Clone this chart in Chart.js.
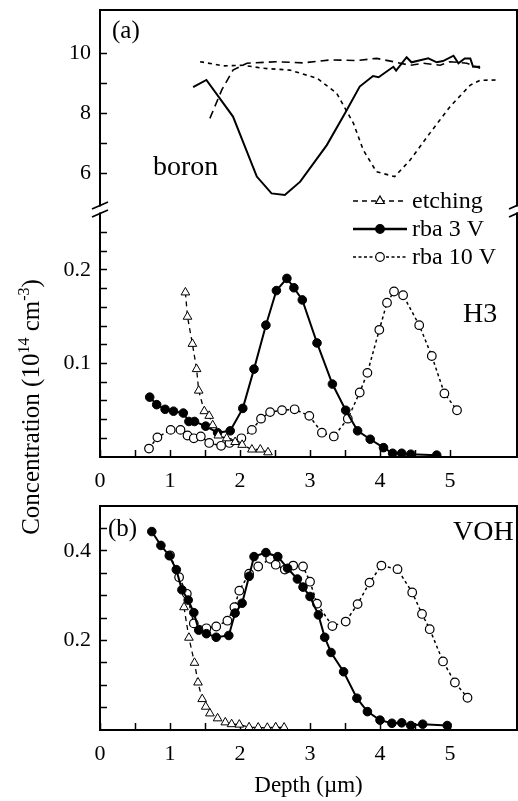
<!DOCTYPE html>
<html><head><meta charset="utf-8">
<script src="https://cdn.jsdelivr.net/npm/chart.js@4.4.1/dist/chart.umd.min.js"></script>
<style>
html,body{margin:0;padding:0;background:#fff;}
#wrap{position:relative;width:518px;height:801px;overflow:hidden;}
canvas{position:absolute;left:0;top:0;}
</style></head><body>
<div id="wrap"><canvas id="ca" width="518" height="801"></canvas><canvas id="cb" width="518" height="801"></canvas></div>
<script>
// ---------- data ----------
const legendLabels = ['etching', 'rba 3 V', 'rba 10 V'];
const depthTickLabels = [0, 1, 2, 3, 4, 5];
const boronTickLabels = [6, 8, 10];
const h3TickLabels = [0.1, 0.2];
const vohTickLabels = [0.2, 0.4];

// (a) boron profiles
const boronEtchX = [1.57,1.74,1.90,2.10,2.52,2.90,3.29,3.67,3.95,4.19,4.43,4.62,4.86,5.00,5.24,5.43];
const boronEtchY = [7.83,8.78,9.44,9.67,9.72,9.68,9.78,9.76,9.83,9.72,9.60,9.67,9.60,9.72,9.67,9.50];
const boron3X = [1.33,1.52,1.90,2.24,2.45,2.64,2.86,3.24,3.50,3.71,3.90,3.98,4.19,4.23,4.38,4.45,4.69,4.81,4.90,5.05,5.12,5.21,5.29,5.33,5.43];
const boron3Y = [8.87,9.11,7.89,5.89,5.33,5.28,5.72,6.94,8.00,8.89,9.24,9.20,9.55,9.42,9.87,9.70,9.83,9.70,9.74,9.92,9.67,9.83,9.83,9.55,9.55];
const boron10X = [1.43,1.76,2.05,2.33,2.71,3.10,3.38,3.62,3.76,3.95,4.21,4.43,4.71,5.00,5.29,5.43,5.67];
const boron10Y = [9.72,9.58,9.60,9.50,9.44,9.17,8.67,7.67,6.78,6.05,5.89,6.44,7.33,8.22,8.94,9.10,9.11];

// (a) H3
const h3EtchX = [1.22,1.25,1.32,1.38,1.41,1.49,1.56,1.61,1.69,1.81,1.93,2.03,2.17,2.29,2.40];
const h3EtchY = [0.176,0.150,0.121,0.094,0.071,0.049,0.044,0.034,0.023,0.020,0.016,0.013,0.008,0.008,0.005];
const h3_3X = [0.71,0.81,0.93,1.05,1.19,1.27,1.35,1.51,1.68,1.86,2.04,2.20,2.37,2.52,2.67,2.77,2.89,3.10,3.32,3.51,3.68,3.86,4.05,4.18,4.31,4.44,4.81];
const h3_3Y = [0.064,0.056,0.051,0.049,0.047,0.038,0.038,0.033,0.026,0.028,0.052,0.094,0.141,0.178,0.191,0.181,0.168,0.122,0.078,0.050,0.028,0.019,0.010,0.004,0.004,0.003,0.002];
const h3_10X = [0.70,0.82,1.01,1.15,1.25,1.34,1.44,1.56,1.73,1.85,2.02,2.17,2.30,2.43,2.60,2.78,2.99,3.17,3.34,3.54,3.71,3.82,3.99,4.10,4.20,4.33,4.56,4.74,4.92,5.10];
const h3_10Y = [0.009,0.021,0.029,0.029,0.023,0.020,0.022,0.015,0.012,0.015,0.020,0.029,0.041,0.048,0.050,0.051,0.044,0.026,0.022,0.041,0.069,0.090,0.136,0.165,0.177,0.173,0.141,0.108,0.068,0.050];

// (b) VOH
const vohEtchX = [1.20,1.27,1.35,1.40,1.46,1.51,1.57,1.68,1.79,1.88,1.99,2.13,2.26,2.39,2.51,2.63];
const vohEtchY = [0.274,0.206,0.150,0.106,0.069,0.052,0.037,0.026,0.017,0.013,0.012,0.006,0.0055,0.005,0.006,0.0055];
const voh3X = [0.74,0.87,0.99,1.09,1.17,1.26,1.34,1.41,1.52,1.66,1.84,1.93,2.03,2.13,2.20,2.37,2.54,2.68,2.82,2.90,3.00,3.12,3.21,3.30,3.48,3.67,3.82,4.00,4.17,4.31,4.44,4.61,4.96];
const voh3Y = [0.443,0.412,0.389,0.358,0.313,0.290,0.262,0.223,0.215,0.207,0.211,0.261,0.283,0.343,0.387,0.396,0.387,0.361,0.337,0.319,0.298,0.257,0.207,0.173,0.130,0.071,0.041,0.022,0.015,0.016,0.010,0.013,0.010];
const voh10X = [1.00,1.13,1.24,1.34,1.52,1.66,1.82,1.92,1.99,2.13,2.26,2.43,2.51,2.64,2.76,2.90,3.00,3.10,3.32,3.51,3.68,3.85,4.02,4.25,4.46,4.60,4.71,4.90,5.07,5.25];
const voh10Y = [0.390,0.341,0.304,0.238,0.227,0.231,0.244,0.274,0.311,0.349,0.365,0.382,0.369,0.358,0.367,0.365,0.331,0.282,0.232,0.242,0.281,0.329,0.367,0.359,0.307,0.259,0.225,0.153,0.106,0.072];

// ---------- helpers ----------
const FONT = "'Liberation Serif','Times New Roman',Times,serif";
const pts = (xs, ys) => xs.map((x, i) => ({x: x, y: ys[i]}));
const near = (v, list) => list.some(t => Math.abs(v - t) < 1e-6);
const onStep = (v, s) => Math.abs(v / s - Math.round(v / s)) < 1e-6;
const noPad = s => { s.paddingTop = 0; s.paddingBottom = 0; s.paddingLeft = 0; s.paddingRight = 0; };

const styleEtch = {borderColor:'#000', borderWidth:1.3, borderDash:[5,4], pointStyle:'triangle', pointRadius:5, pointBackgroundColor:'#fff', pointBorderColor:'#000', pointBorderWidth:1};
const style3 = {borderColor:'#000', borderWidth:2, borderDash:[], pointStyle:'circle', pointRadius:4.3, pointBackgroundColor:'#000', pointBorderColor:'#000', pointBorderWidth:1};
const style10 = {borderColor:'#000', borderWidth:1.5, borderDash:[3,3], pointStyle:'circle', pointRadius:4.3, pointBackgroundColor:'#fff', pointBorderColor:'#000', pointBorderWidth:1.2};

function xScale(h, showTitle) {
  return {
    type:'linear', position:'bottom', min:0, max:5.957,
    ticks:{stepSize:0.5, autoSkip:false, maxRotation:0, color:'#000', padding:18,
      font:{family:FONT, size:22},
      callback:v => onStep(v,0.5) ? (near(v, depthTickLabels) ? String(v) : '') : null},
    grid:{drawOnChartArea:false, drawTicks:true, tickLength:-7, tickColor:'#000', tickWidth:1.5},
    border:{display:false},
    title: showTitle ? {display:true, text:'Depth (\u00b5m)', color:'#000', font:{family:FONT, size:23}, padding:{top:0,bottom:1}} : {display:false},
    afterFit:s => { s.height = h; noPad(s); }
  };
}
function yScale(opts) {
  return Object.assign({
    type:'linear', position:'left',
    grid:{drawOnChartArea:false, drawTicks:true, tickLength:-7, tickColor:'#000', tickWidth:1.5},
    border:{display:false},
    afterFit:s => { s.width = 100; noPad(s); }
  }, opts);
}

function frame(ctx, a, gapY) {
  ctx.save();
  ctx.strokeStyle = '#000'; ctx.lineWidth = 2; ctx.setLineDash([]);
  ctx.beginPath();
  ctx.moveTo(a.left - 1, a.top); ctx.lineTo(a.right + 1, a.top);
  ctx.moveTo(a.left - 1, a.bottom); ctx.lineTo(a.right + 1, a.bottom);
  if (gapY === null) {
    ctx.moveTo(a.left, a.top); ctx.lineTo(a.left, a.bottom);
    ctx.moveTo(a.right, a.top); ctx.lineTo(a.right, a.bottom);
  } else {
    [a.left, a.right].forEach(x => {
      ctx.moveTo(x, a.top); ctx.lineTo(x, gapY - 3);
      ctx.moveTo(x, gapY + 3); ctx.lineTo(x, a.bottom);
    });
  }
  ctx.stroke();
  if (gapY !== null) {
    ctx.lineWidth = 1.8;
    ctx.beginPath();
    [a.left, a.right].forEach(x => {
      [gapY - 4, gapY + 4].forEach(yc => {
        ctx.moveTo(x - 8, yc + 3.5); ctx.lineTo(x + 8, yc - 3.5);
      });
    });
    ctx.stroke();
  }
  ctx.restore();
}

function txt(ctx, s, x, y, size, base, align) {
  ctx.save();
  ctx.fillStyle = '#000';
  ctx.font = size + 'px ' + FONT;
  ctx.textBaseline = base || 'alphabetic';
  ctx.textAlign = align || 'left';
  ctx.fillText(s, x, y);
  ctx.restore();
}

function drawMarker(ctx, kind, x, y) {
  ctx.save();
  ctx.strokeStyle = '#000'; ctx.lineWidth = 1.2; ctx.setLineDash([]);
  ctx.beginPath();
  if (kind === 'tri') {
    const r = 5;
    ctx.moveTo(x, y - r); ctx.lineTo(x + r * 0.866, y + r * 0.5); ctx.lineTo(x - r * 0.866, y + r * 0.5); ctx.closePath();
    ctx.fillStyle = '#fff'; ctx.fill(); ctx.stroke();
  } else {
    ctx.arc(x, y, 4.3, 0, Math.PI * 2);
    ctx.fillStyle = kind === 'filled' ? '#000' : '#fff'; ctx.fill(); ctx.stroke();
  }
  ctx.restore();
}

const panelA = {
  id:'panelA',
  afterDraw(chart) {
    const ctx = chart.ctx, a = chart.chartArea;
    const gapY = chart.scales.yH.top;
    frame(ctx, a, gapY);
    txt(ctx, '(a)', 112, 31, 25, 'middle');
    txt(ctx, 'boron', 153, 175, 28);
    txt(ctx, 'H3', 463, 322, 28);
    // legend
    const rows = [
      {y:201, dash:[5,4], w:1.4, m:'tri'},
      {y:229, dash:[], w:2.4, m:'filled'},
      {y:257, dash:[3,2.5], w:1.4, m:'open'}
    ];
    rows.forEach((r, i) => {
      ctx.save();
      ctx.strokeStyle = '#000'; ctx.lineWidth = r.w; ctx.setLineDash(r.dash);
      ctx.beginPath(); ctx.moveTo(353, r.y); ctx.lineTo(407, r.y); ctx.stroke();
      ctx.restore();
      drawMarker(ctx, r.m, 380, r.y);
      txt(ctx, legendLabels[i], 412, r.y + 1, 24, 'middle');
    });
  }
};

const panelB = {
  id:'panelB',
  afterDraw(chart) {
    const ctx = chart.ctx, a = chart.chartArea;
    frame(ctx, a, null);
    txt(ctx, '(b)', 108, 529, 25, 'middle');
    txt(ctx, 'VOH', 453, 540, 28);
    // shared y-axis title
    ctx.save();
    ctx.translate(39, 407);
    ctx.rotate(-Math.PI / 2);
    ctx.fillStyle = '#000';
    ctx.textBaseline = 'alphabetic';
    ctx.textAlign = 'left';
    const big = '25px ' + FONT, small = '16px ' + FONT;
    const parts = [
      {t:'Concentration (10', f:big, dy:0},
      {t:'14', f:small, dy:-10},
      {t:' cm', f:big, dy:0},
      {t:'-3', f:small, dy:-10},
      {t:')', f:big, dy:0}
    ];
    let total = 0;
    parts.forEach(p => { ctx.font = p.f; p.w = ctx.measureText(p.t).width; total += p.w; });
    let x = -total / 2;
    parts.forEach(p => { ctx.font = p.f; ctx.fillText(p.t, x, p.dy); x += p.w; });
    ctx.restore();
  }
};

const common = {responsive:false, animation:false, devicePixelRatio:1, events:[],
  plugins:{legend:{display:false}, tooltip:{enabled:false}},
  elements:{line:{tension:0, fill:false}}};

const tickFont = {family:FONT, size:22};

new Chart(document.getElementById('ca'), {
  type:'line',
  data:{datasets:[
    Object.assign({label:'boron etching', data:pts(boronEtchX, boronEtchY), yAxisID:'yB'}, {borderColor:'#000', borderWidth:1.6, borderDash:[8,5], pointRadius:0}),
    Object.assign({label:'boron rba 3 V', data:pts(boron3X, boron3Y), yAxisID:'yB'}, {borderColor:'#000', borderWidth:2, pointRadius:0}),
    Object.assign({label:'boron rba 10 V', data:pts(boron10X, boron10Y), yAxisID:'yB'}, {borderColor:'#000', borderWidth:1.6, borderDash:[4,4], pointRadius:0}),
    Object.assign({label:'H3 etching', data:pts(h3EtchX, h3EtchY), yAxisID:'yH'}, styleEtch),
    Object.assign({label:'H3 rba 3 V', data:pts(h3_3X, h3_3Y), yAxisID:'yH'}, style3),
    Object.assign({label:'H3 rba 10 V', data:pts(h3_10X, h3_10Y), yAxisID:'yH'}, style10)
  ]},
  options:Object.assign({}, common, {
    layout:{autoPadding:false, padding:{left:0, right:1, top:10, bottom:801 - 457 - 40}},
    scales:{
      x:xScale(40, false),
      yB:yScale({stack:'a', stackWeight:199.5, weight:2, min:4.793, max:11.443,
        ticks:{autoSkip:false, color:'#000', padding:16, font:tickFont, stepSize:1,
          callback:v => (onStep(v,1) && v >= 5.5) ? (near(v, boronTickLabels) ? String(v) : '') : null}}),
      yH:yScale({stack:'a', stackWeight:247.5, weight:1, min:0, max:0.2647,
        ticks:{autoSkip:false, color:'#000', padding:16, font:tickFont, stepSize:0.02,
          callback:v => (onStep(v,0.02) && v > 0.001 && v < 0.25) ? (near(v, h3TickLabels) ? String(Math.round(v*10)/10) : '') : null}})
    }
  }),
  plugins:[panelA]
});

new Chart(document.getElementById('cb'), {
  type:'line',
  data:{datasets:[
    Object.assign({label:'VOH etching', data:pts(vohEtchX, vohEtchY)}, styleEtch),
    Object.assign({label:'VOH rba 3 V', data:pts(voh3X, voh3Y)}, style3),
    Object.assign({label:'VOH rba 10 V', data:pts(voh10X, voh10Y)}, style10)
  ]},
  options:Object.assign({}, common, {
    layout:{autoPadding:false, padding:{left:0, right:1, top:506, bottom:0}},
    scales:{
      x:xScale(71, true),
      y:yScale({min:0, max:0.5,
        ticks:{autoSkip:false, color:'#000', padding:16, font:tickFont, stepSize:0.05,
          callback:v => (onStep(v,0.05) && v > 0.001 && v < 0.49) ? (near(v, vohTickLabels) ? String(Math.round(v*10)/10) : '') : null}})
    }
  }),
  plugins:[panelB]
});
</script>
</body></html>
